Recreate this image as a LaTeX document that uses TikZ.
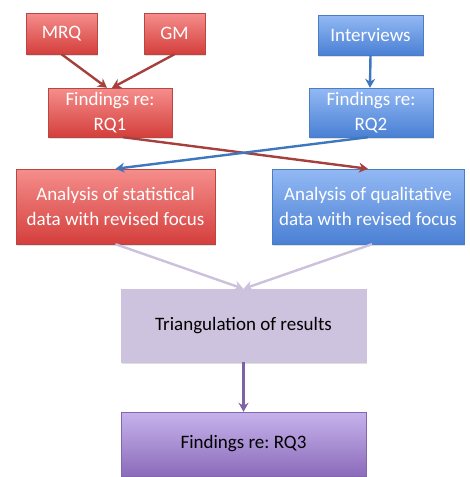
\documentclass[tikz,border=0pt]{standalone}
\usepackage{fontspec}
\setmainfont{Carlito}
\frenchspacing
\usetikzlibrary{arrows.meta,shadows}

\definecolor{redtop}{HTML}{F58E8C}
\definecolor{redbot}{HTML}{D43F3C}
\definecolor{redline}{HTML}{B84744}
\definecolor{redarrow}{HTML}{A5403D}
\definecolor{bluetop}{HTML}{93B9F4}
\definecolor{bluebot}{HTML}{4A80D4}
\definecolor{blueline}{HTML}{4A7EC4}
\definecolor{bluearrow}{HTML}{3F77BE}
\definecolor{lavfill}{HTML}{CDC3DE}
\definecolor{lavarrow}{HTML}{CBC1DC}
\definecolor{purptop}{HTML}{C6B3EC}
\definecolor{purpbot}{HTML}{8C6BBA}
\definecolor{purpline}{HTML}{8366AE}
\definecolor{purparrow}{HTML}{7E62A6}

\tikzset{
  box/.style={rectangle,align=center,font=\fontsize{19}{25}\selectfont,
    inner sep=2pt,drop shadow={shadow xshift=1pt,shadow yshift=-1.5pt,opacity=.25}},
  redbox/.style={box,draw=redline,top color=redtop,bottom color=redbot,text=white},
  bluebox/.style={box,draw=blueline,top color=bluetop,bottom color=bluebot,text=white},
  lavbox/.style={box,draw=lavfill,fill=lavfill,text=black},
  purpbox/.style={box,draw=purpline,top color=purptop,bottom color=purpbot,text=black},
  link/.style={line width=2.4pt,-{Stealth[length=9pt,width=10pt]}}
}

\begin{document}
\begin{tikzpicture}[x=1pt,y=-1pt]
            \useasboundingbox (0,0) rectangle (470,477);

            % Sources
            \node[redbox,minimum width=71pt,minimum height=41pt] (mrq) at (61.5,33.5) {MRQ};
            \node[redbox,minimum width=61pt,minimum height=41pt] (gm) at (174.5,33.5) {GM};
            \node[bluebox,minimum width=105pt,minimum height=40pt] (interviews) at (370.5,35) {Interviews};

            % First findings
            \node[redbox,minimum width=124pt,minimum height=49pt] (rqone) at (110,112.5) {Findings re:\\RQ1};
            \node[bluebox,minimum width=124pt,minimum height=49pt] (rqtwo) at (371,112.5) {Findings re:\\RQ2};

            % Analysis
            \node[redbox,minimum width=199pt,minimum height=75pt] (stat) at (115.5,206.5) {Analysis of statistical\\data with revised focus};
            \node[bluebox,minimum width=192pt,minimum height=75pt] (qual) at (368,206.5) {Analysis of qualitative\\data with revised focus};

            % Bringing together
            \node[lavbox,minimum width=245pt,minimum height=73pt] (tri) at (243.5,325.5) {Triangulation of results};
            \node[purpbox,minimum width=245pt,minimum height=64pt] (rqthree) at (243.5,444) {Findings re: RQ3};

            % Arrows
            \draw[link,redarrow] (mrq.south) -- ([xshift=-3pt]rqone.north);
            \draw[link,redarrow] (gm.south) -- ([xshift=2pt]rqone.north);
            \draw[link,bluearrow] (interviews.south) -- ([xshift=-1pt]rqtwo.north);
            \draw[link,redarrow] ([xshift=13pt]rqone.south) -- (qual.north);
            \draw[link,bluearrow] ([xshift=-3pt]rqtwo.south) -- (stat.north);
            \draw[link,lavarrow] (stat.south) -- (tri.north);
            \draw[link,lavarrow] ([xshift=4pt]qual.south) -- (tri.north);
            \draw[link,purparrow] (tri.south) -- (rqthree.north);
        \end{tikzpicture}
\end{document}
